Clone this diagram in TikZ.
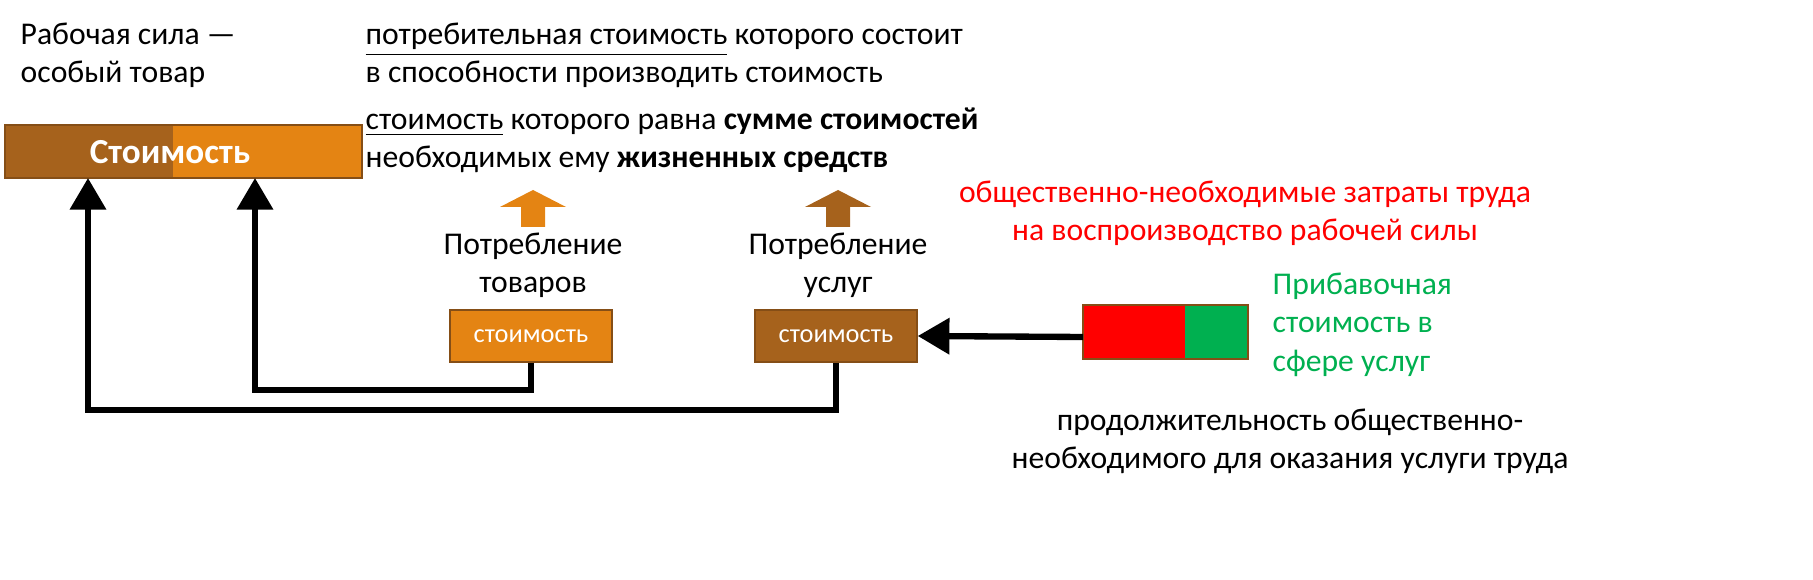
\documentclass[tikz,border=0pt]{standalone}
\usepackage{fontspec}
\setmainfont{Carlito}
\usetikzlibrary{arrows.meta,positioning}
\definecolor{brn}{HTML}{A6621C}
\definecolor{orng}{HTML}{E48413}
\definecolor{redc}{HTML}{FF0000}
\definecolor{grn}{HTML}{00B050}
\begin{document}
\begin{tikzpicture}[x=0.01cm,y=-0.01cm,font=\fontsize{9}{11}\selectfont]
\tikzstyle{txt}=[inner sep=0pt,align=left,anchor=north west]
\tikzstyle{ctxt}=[inner sep=0pt,align=center,anchor=north]
\tikzstyle{box}=[rectangle,draw=brn!80!black,minimum width=1.62cm,minimum height=0.52cm,text=white,font=\fontsize{7.5}{9}\selectfont]
\tikzstyle{link}=[line width=1.8pt,line join=miter]
\useasboundingbox (0,0) rectangle (1813,580);
\node [txt] (title) at (20,22) {Рабочая сила —\\особый товар};
% bar of value
\fill [brn] (5,125) rectangle (173,178);
\fill [orng] (173,125) rectangle (362,178);
\draw [brn!80!black] (5,125) rectangle (362,178);
\node [text=white,font=\fontsize{10}{12}\selectfont\bfseries] (bar) at (170,152) {Стоимость};
\coordinate (in1) at (255,178);
\coordinate (in2) at (88,178);
\node [txt] (use) at (365,22) {\underline{потребительная стоимость} которого состоит\\в способности производить стоимость};
\node [txt] (val) at (365,107) {\underline{стоимость} которого равна \textbf{сумме стоимостей}\\необходимых ему \textbf{жизненных средств}};
% up arrows
\fill [orng] (521,227) -- (521,207) -- (500,207) -- (533,190) -- (566,207) -- (545,207) -- (545,227) -- cycle;
\fill [brn] (826,227) -- (826,207) -- (805,207) -- (838,190) -- (871,207) -- (850,207) -- (850,227) -- cycle;
\node [ctxt] (goods) at (533,232) {Потребление\\товаров};
\node [ctxt] (serv) at (838,232) {Потребление\\услуг};
\node [box,fill=orng] (bg) at (531,336) {стоимость};
\node [box,fill=brn] (bs) at (836,336) {стоимость};
\node [ctxt,text=redc] (cost) at (1245,180) {общественно-необходимые затраты труда\\на воспроизводство рабочей силы};
% red/green bar
\fill [redc] (1083,305) rectangle (1185,359);
\fill [grn] (1185,305) rectangle (1248,359);
\draw [brn!80!black,line width=0.8pt] (1083,305) rectangle (1248,359);
\coordinate (rg) at (1083,337);
\node [txt,text=grn] (surplus) at (1272,272) {Прибавочная\\стоимость в\\сфере услуг};
\node [ctxt] (dur) at (1290,408) {продолжительность общественно-\\необходимого для оказания услуги труда};
% connectors
\draw [link,-{Triangle[length=9pt,width=10pt]}] (rg) -- (bs.east);
\draw [link,-{Triangle[length=9pt,width=10pt]}] (bg.south) |- (255,390) -- (in1);
\draw [link,-{Triangle[length=9pt,width=10pt]}] (bs.south) |- (88,410) -- (in2);
\end{tikzpicture}
\end{document}
